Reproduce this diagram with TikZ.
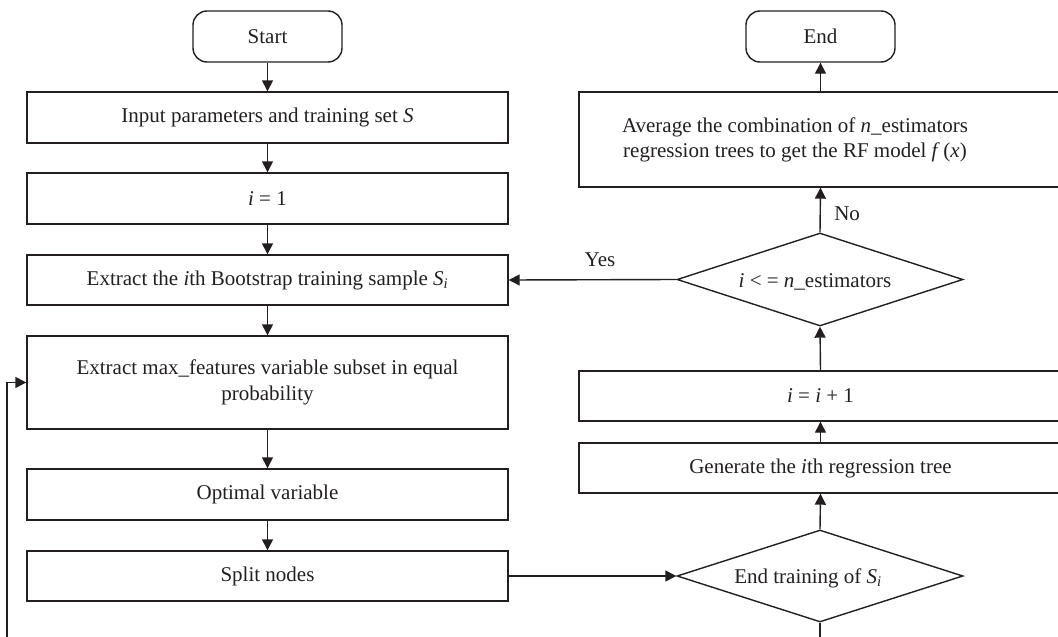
\documentclass[tikz,border=0pt]{standalone}
\usepackage{fontspec}
\setmainfont{Liberation Serif}
\usetikzlibrary{arrows.meta,shapes.geometric}
\definecolor{ink}{HTML}{231F20}
\begin{document}
\begin{tikzpicture}[x=1pt,y=-1pt,
  every node/.style={font=\fontsize{21}{25.5}\selectfont, text=ink},
  box/.style={draw=ink, line width=1.4pt, rectangle, inner sep=0pt, align=center},
  term/.style={box, rounded corners=14pt, minimum width=149pt, minimum height=51pt},
  lbox/.style={box, minimum width=481pt},
  rbox/.style={box, minimum width=483pt},
  dec/.style={draw=ink, line width=1.4pt, diamond, inner sep=0pt, minimum width=286pt, minimum height=93pt},
  conn/.style={draw=ink, line width=1.4pt, -{Triangle[length=11pt,width=11pt]}},
  plain/.style={draw=ink, line width=1.4pt}]
\useasboundingbox (0,0) rectangle (1058,637);
\clip (0,0) rectangle (1058,637);
% left column
\node[term] (start) at (267.5,36.5) {Start};
\node[lbox, minimum height=51pt] (input) at (267.5,117.5) {Input parameters and training set \textit{S}};
\node[lbox, minimum height=51pt] (ione) at (267.5,198.5) {\textit{i} = 1};
\node[lbox, minimum height=50pt] (extract) at (267.5,280) {Extract the \textit{i}th Bootstrap training sample \textit{S}\textsubscript{\textit{i}}};
\node[lbox, minimum height=93pt] (maxf) at (267.5,382.5) {Extract max\_features variable subset in equal\\probability};
\node[lbox, minimum height=51pt] (optimal) at (267.5,494.5) {Optimal variable};
\node[lbox, minimum height=50pt] (split) at (267.5,576) {Split nodes};
% right column
\node[term] (endn) at (820.5,36.5) {End};
\node[rbox, minimum height=95pt] (avg) at (820.5,139.5) {};
\node[align=center] (avgtext) at (795,140) {Average the combination of \textit{n}\_estimators\\regression trees to get the RF model \textit{f}\,(\textit{x})};
\node[dec] (d1) at (820,279.5) {};
\node (d1text) at (815,282) {\textit{i} < = \textit{n}\_estimators};
\node[rbox, minimum height=50pt] (inc) at (820.5,396) {\textit{i} = \textit{i} + 1};
\node[rbox, minimum height=50pt] (gen) at (820.5,468) {Generate the \textit{i}th regression tree};
\node[dec, minimum height=92pt] (d2) at (820,576) {};
\node (d2text) at (808,578) {End training of \textit{S}\textsubscript{\textit{i}}};
\coordinate (bot) at (820,637);
\coordinate (fbbot) at (7,637);
\coordinate (fbtop) at (7,382.5);
% connectors
\draw[conn] (start) -- (input);
\draw[conn] (input) -- (ione);
\draw[conn] (ione) -- (extract);
\draw[conn] (extract) -- (maxf);
\draw[conn] (maxf) -- (optimal);
\draw[conn] (optimal) -- (split);
\draw[conn] (split.east) -- (d2.west);
\draw[conn] (d2.north) -- (gen.south);
\draw[conn] (gen.north) -- (inc.south);
\draw[conn] (inc.north) -- (d1.south);
\draw[conn] (d1.north) -- node[right, xshift=10pt, yshift=-4pt] (nolab) {No} (avg.south);
\draw[conn] (avg.north) -- (endn.south);
\draw[conn] (d1.west) -- (extract.east);
\node (yes) at (600,260) {Yes};
\draw[plain] (d2.south) -- (bot);
\draw[conn] (fbbot) -- (fbtop) -- (maxf.west);
\end{tikzpicture}
\end{document}
